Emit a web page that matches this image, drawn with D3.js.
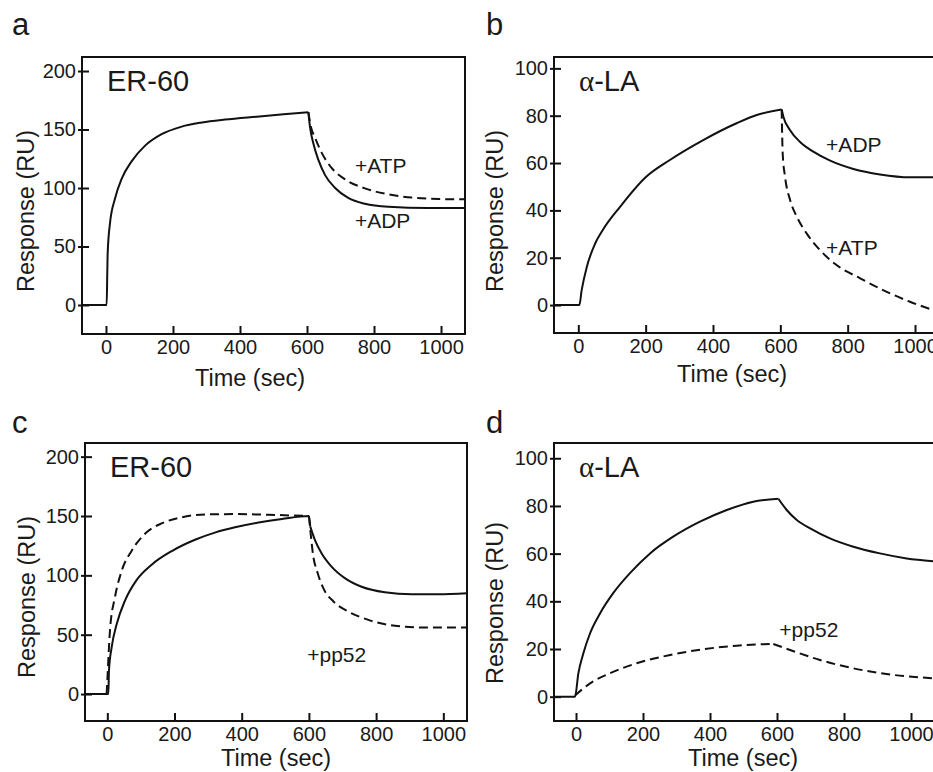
<!DOCTYPE html>
<html>
<head>
<meta charset="utf-8">
<script src="https://cdn.jsdelivr.net/npm/d3@7"></script>
<style>
  body { margin: 0; background: #fff; }
  svg text { font-family: 'Liberation Sans', Arial, Helvetica, sans-serif; fill: #1a1a1a; }
</style>
</head>
<body>
<script>
// sensorgram traces, as [time (sec), response (RU)]

// panel a: ER-60 with nucleotide
const aAdp = [[-72, 0], [2, 0], [4, 30], [5, 44], [12, 70], [27, 91], [47, 108], [77, 123], [116, 136],
  [166, 146], [226, 152.5], [286, 156], [355, 158.5], [450, 161], [530, 163], [604, 164.8],
  [609, 152], [619, 138], [634, 124], [654, 111], [684, 100], [723, 91.5], [773, 86.5],
  [843, 84], [962, 83], [1072, 83]]
const aAtp = [[604, 164.8], [612, 152], [624, 143], [644, 130], [674, 117], [713, 107.5],
  [773, 99.7], [843, 94.6], [913, 91.8], [992, 90.6], [1072, 90.3]]

// panel b: alpha-LA with nucleotide
const bAdp = [[-72, 0], [3, 0], [10, 6.3], [25, 16], [50, 26], [74, 32], [124, 41.5], [200, 54],
  [272, 61.3], [371, 69.7], [470, 76.8], [530, 80.3], [604, 82.6],
  [609, 79.6], [629, 73.9], [658, 69], [698, 64.8], [748, 61], [817, 57.5], [896, 55.2],
  [985, 54], [1065, 54]]
const bAtp = [[604, 82.6], [607, 64], [614, 54.2], [629, 44.4], [649, 37.3], [678, 30.3],
  [718, 23.2], [767, 16.9], [837, 11.3], [916, 5.6], [985, 1.4], [1065, -2.6]]

// panel c: ER-60 without / with pp52
const cControl = [[-72, 0], [3, 0], [5, 20], [13, 39.6], [28, 59], [53, 79], [87, 96], [132, 109],
  [192, 120.5], [261, 130], [320, 136], [380, 140.5], [450, 144.5], [520, 147.5], [600, 150],
  [604, 141], [618, 129.7], [638, 118.5], [668, 107.2], [708, 97.5], [757, 90.4],
  [826, 85.7], [906, 84], [985, 84], [1072, 85]]
const cPp52 = [[-2, 0], [1, 17], [8, 54], [23, 82], [43, 104], [73, 121], [112, 135], [162, 143.8],
  [221, 148.9], [291, 151.3], [380, 151.6], [480, 151], [600, 150],
  [606, 133], [612, 118], [626, 102], [645, 88], [673, 78], [717, 69.5], [777, 62.5],
  [856, 57.5], [955, 56], [1072, 56]]

// panel d: alpha-LA without / with pp52
const dControl = [[-72, 0], [-3, 0], [7, 9.8], [22, 18.2], [42, 26.6], [72, 35], [111, 43.4],
  [161, 51.8], [221, 60.1], [290, 67.1], [370, 73.4], [450, 78.3], [529, 81.8], [604, 83],
  [629, 78.3], [659, 74.1], [699, 70.6], [758, 66.4], [828, 62.9], [907, 60.1], [987, 58],
  [1078, 56.7]]
const dPp52 = [[-3, 0.5], [42, 5.6], [101, 9.8], [181, 14], [281, 17.5], [380, 19.9], [480, 21.4],
  [559, 22], [589, 22.1], [639, 19.6], [728, 15.4], [828, 11.9], [927, 9.5], [1078, 7.6]]

// injection stops here, the traces turn into dissociation
const stopTime = 605

// axis ticks
const timeTicks = [0, 200, 400, 600, 800, 1000]
const erTicks = [0, 50, 100, 150, 200]
const laTicks = [0, 20, 40, 60, 80, 100]

// text labels
const panelLetters = ['a', 'b', 'c', 'd']
const proteins = ['ER-60', 'α-LA', 'ER-60', 'α-LA']
const notes = [
  [{ text: '+ATP', t: 743, v: 112.6 }, { text: '+ADP', t: 743, v: 65.6 }],
  [{ text: '+ADP', t: 736, v: 64.8 }, { text: '+ATP', t: 736, v: 21.1 }],
  [{ text: '+pp52', t: 595, v: 27.2 }],
  [{ text: '+pp52', t: 607, v: 24.9 }]
]

// measurements for each panel
const panels = [
  { left: 82, top: 57, w: 383, h: 277, x: [-71.6, 1071.6], y: [-24.8, 212], yTicks: erTicks,
    solid: aAdp, dashed: aAtp, letter: [12, 35], timeTitle: [250, 386], respTitle: [34, 211] },
  { left: 554, top: 57, w: 383, h: 276, x: [-72.2, 1065.3], y: [-11.8, 104.8], yTicks: laTicks,
    solid: bAdp, dashed: bAtp, letter: [486, 35], timeTitle: [732, 382], respTitle: [503, 211] },
  { left: 85, top: 443, w: 382, h: 278, x: [-66.4, 1070.5], y: [-22.7, 211.5], yTicks: erTicks,
    solid: cControl, dashed: cPp52, letter: [12, 433], timeTitle: [276, 766], respTitle: [35, 597] },
  { left: 554, top: 443, w: 383, h: 278, x: [-65.7, 1077.6], y: [-10.2, 106.4], yTicks: laTicks,
    solid: dControl, dashed: dPp52, letter: [486, 433], timeTitle: [743, 766], respTitle: [503, 603] }
]

const svg = d3.select('body').append('svg')
  .attr('width', 933)
  .attr('height', 772)

// split a trace at the end of injection so the peak stays sharp
function phases(trace) {
  let k = 0
  trace.forEach((d, j) => { if (d[0] <= stopTime) k = j })
  return [trace.slice(0, k + 1), trace.slice(k)].filter(s => s.length > 1)
}

panels.forEach((p, i) => {
  const xScale = d3.scaleLinear().domain(p.x).range([0, p.w])
  const yScale = d3.scaleLinear().domain(p.y).range([p.h, 0])

  const g = svg.append('g').attr('transform', `translate(${p.left},${p.top})`)

  g.append('clipPath').attr('id', 'clip' + i)
    .append('rect').attr('width', p.w).attr('height', p.h)

  // bottom axis, ticks point inward
  const xAxis = d3.axisBottom(xScale).tickValues(timeTicks).tickFormat(d3.format('d'))
    .tickSize(-8).tickPadding(6)
  g.append('g')
    .attr('transform', `translate(0,${p.h})`)
    .call(xAxis)
    .call(ax => ax.select('.domain').remove())
    .call(ax => ax.selectAll('line').attr('stroke', '#111').attr('stroke-width', 2))
    .call(ax => ax.selectAll('text').attr('font-size', 20).attr('fill', '#222'))

  // left axis, ticks cross the frame
  const yAxis = d3.axisLeft(yScale).tickValues(p.yTicks).tickSize(4).tickPadding(2)
  g.append('g')
    .call(yAxis)
    .call(ax => ax.select('.domain').remove())
    .call(ax => ax.selectAll('line').attr('x1', 7).attr('stroke', '#111').attr('stroke-width', 2))
    .call(ax => ax.selectAll('text').attr('font-size', 20).attr('fill', '#222'))

  // traces
  const line = d3.line()
    .x(d => xScale(d[0]))
    .y(d => yScale(d[1]))
    .curve(d3.curveMonotoneX)

  const traces = g.append('g').attr('clip-path', `url(#clip${i})`)
  traces.selectAll('.dashed')
    .data(phases(p.dashed))
    .join('path')
    .attr('class', 'dashed')
    .attr('d', line)
    .attr('fill', 'none')
    .attr('stroke', '#111')
    .attr('stroke-width', 2)
    .attr('stroke-dasharray', '9,5')
  traces.selectAll('.solid')
    .data(phases(p.solid))
    .join('path')
    .attr('class', 'solid')
    .attr('d', line)
    .attr('fill', 'none')
    .attr('stroke', '#111')
    .attr('stroke-width', 2)
    .attr('stroke-linejoin', 'round')

  // frame
  g.append('rect')
    .attr('width', p.w)
    .attr('height', p.h)
    .attr('fill', 'none')
    .attr('stroke', '#111')
    .attr('stroke-width', 2)

  // protein name
  const name = g.append('text')
    .attr('x', 25)
    .attr('y', 34)
    .attr('font-size', 29)
  if (proteins[i].startsWith('α')) {
    name.append('tspan').attr('font-family', "'Liberation Serif', 'Times New Roman', serif").text('α')
    name.append('tspan').text(proteins[i].slice(1))
  } else {
    name.text(proteins[i])
  }

  // annotations next to the curves
  g.selectAll('.note')
    .data(notes[i])
    .join('text')
    .attr('class', 'note')
    .attr('x', d => xScale(d.t))
    .attr('y', d => yScale(d.v))
    .attr('font-size', 21)
    .text(d => d.text)

  // axis titles
  svg.append('text')
    .attr('x', p.timeTitle[0])
    .attr('y', p.timeTitle[1])
    .attr('text-anchor', 'middle')
    .attr('font-size', 23.5)
    .text('Time (sec)')

  svg.append('text')
    .attr('transform', `translate(${p.respTitle[0]},${p.respTitle[1]})rotate(-90)`)
    .attr('text-anchor', 'middle')
    .attr('font-size', 23.5)
    .text('Response (RU)')

  // panel letter
  svg.append('text')
    .attr('x', p.letter[0])
    .attr('y', p.letter[1])
    .attr('font-size', 31)
    .text(panelLetters[i])
})
</script>
</body>
</html>
